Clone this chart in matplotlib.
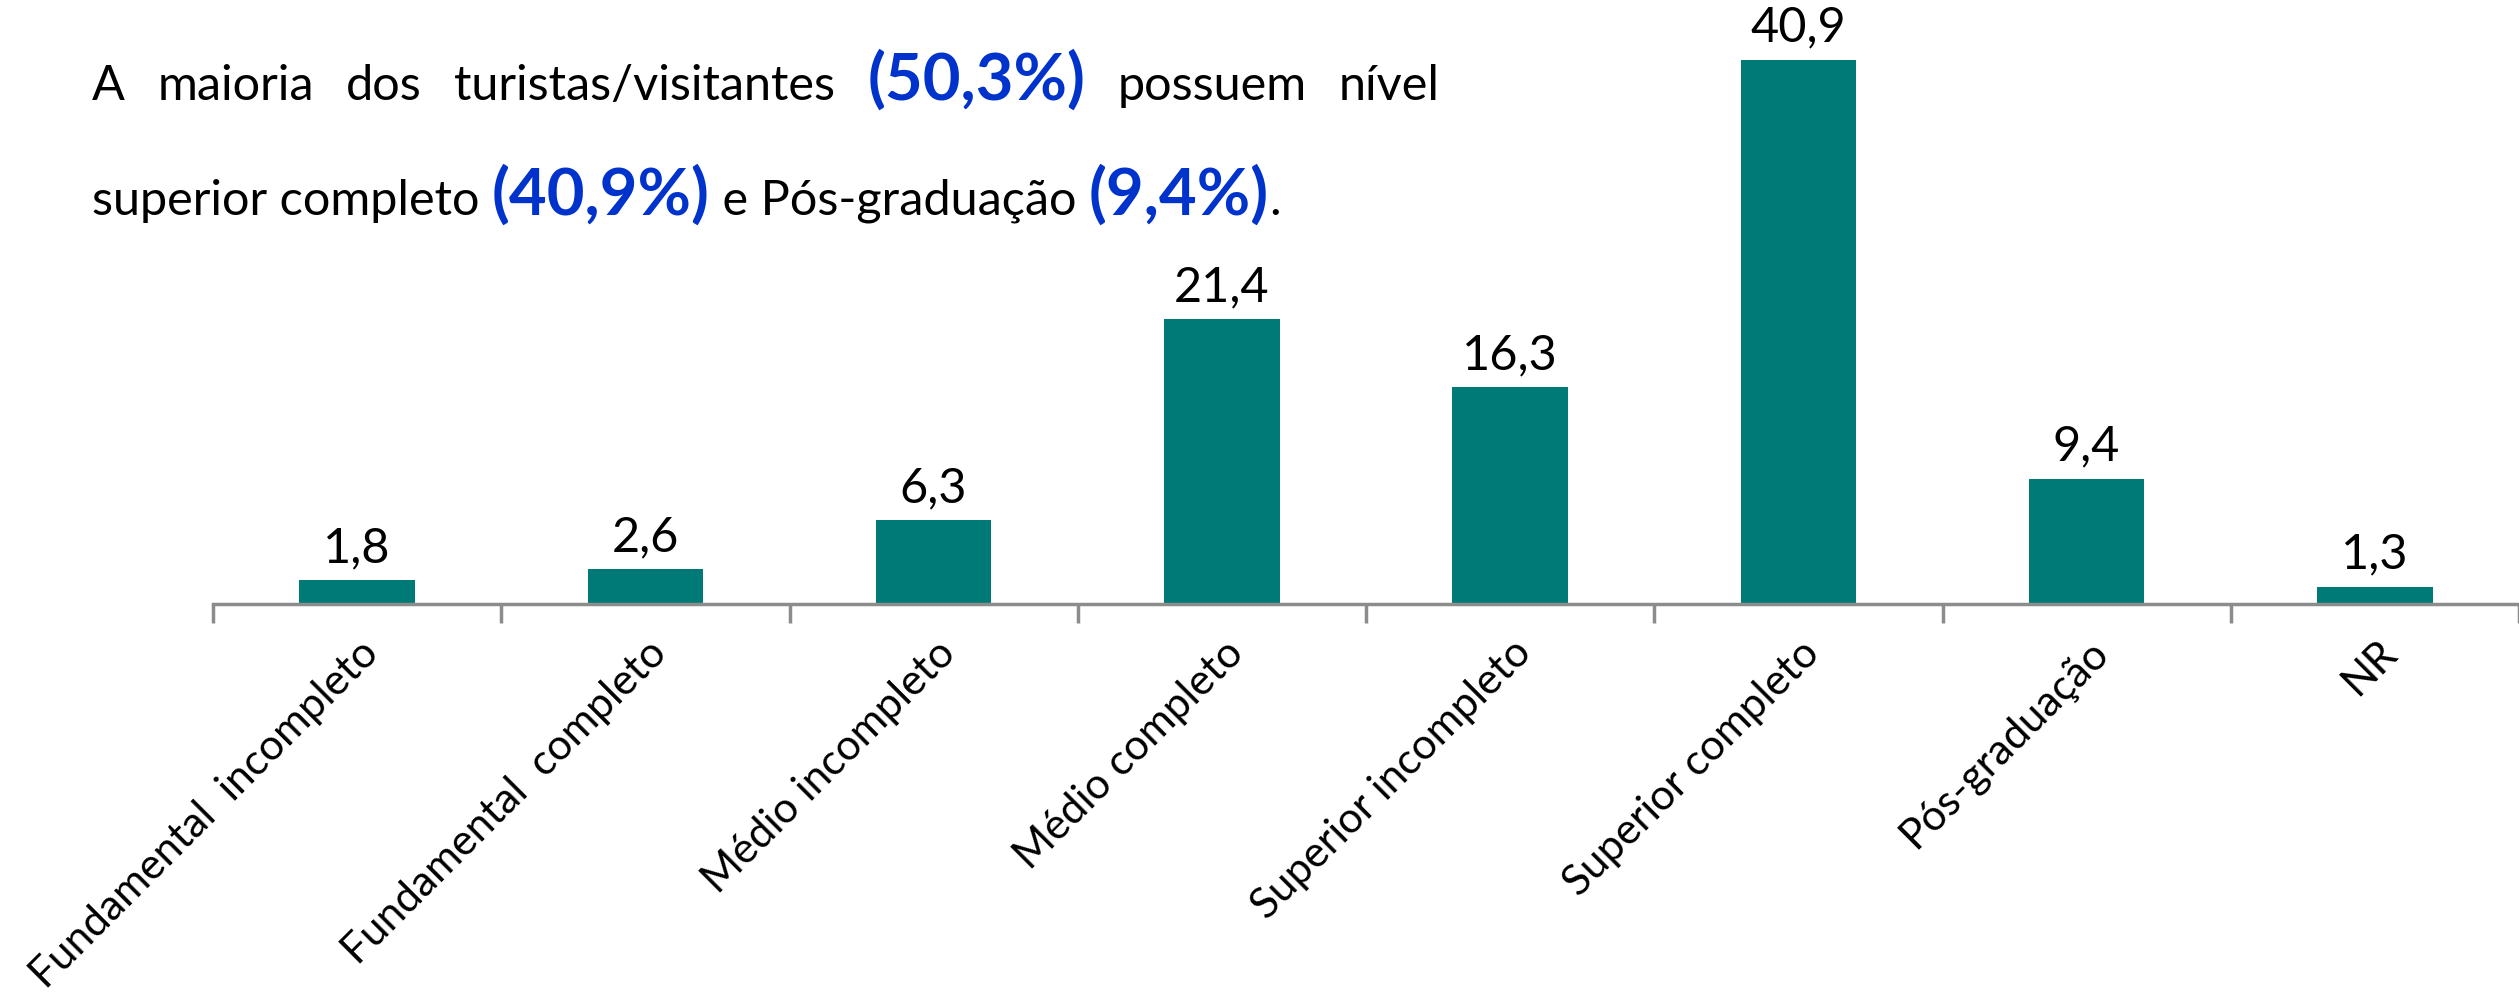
import matplotlib.pyplot as plt
import matplotlib.transforms as mtransforms
import numpy as np

categories = ['Fundamental  incompleto', 'Fundamental  completo', 'Médio incompleto',
              'Médio completo', 'Superior incompleto', 'Superior completo',
              'Pós-graduação', 'NR']
values = [1.8, 2.6, 6.3, 21.4, 16.3, 40.9, 9.4, 1.3]

line1 = [('A', False), ('maioria', False), ('dos', False), ('turistas/visitantes', False),
         ('(50,3%)', True), ('possuem', False), ('nível', False)]
line2 = [('superior completo ', False), ('(40,9%)', True), (' e Pós-graduação ', False),
         ('(9,4%)', True), ('.', False)]

plt.rcParams['font.family'] = ['Lato', 'DejaVu Sans']

W, H = 2519, 993
fig = plt.figure(figsize=(W / 100, H / 100), dpi=100)
ax = fig.add_axes([213 / W, 1 - 604 / H, (2519 - 213) / W, 604 / H])

x = np.arange(len(categories))
ax.bar(x, values, width=0.4, color='#007A76', zorder=2)
for xi, v in zip(x, values):
    ax.annotate(f'{v:.1f}'.replace('.', ','), (xi, v), xytext=(0, 13),
                textcoords='offset points', ha='center', va='baseline', fontsize=35)

ax.set_xlim(-0.5, len(categories) - 0.5)
ax.set_ylim(0, 45.4)
ax.set_yticks([])
for s in ['top', 'right', 'left']:
    ax.spines[s].set_visible(False)
ax.spines['bottom'].set_color('#8C8C8C')
ax.spines['bottom'].set_linewidth(2.5)

ax.set_xticks(x)
ax.set_xticklabels(categories, rotation=45, ha='right', va='center',
                   rotation_mode='anchor', fontsize=30.5)
ax.tick_params(axis='x', which='major', length=0, pad=30)
ax.set_xticks(np.arange(-0.5, len(categories), 1), minor=True)
ax.tick_params(axis='x', which='minor', length=14, width=2.5, color='#8C8C8C')
shift = mtransforms.ScaledTranslation(0.15, -0.01, fig.dpi_scale_trans)
for lab in ax.get_xticklabels():
    lab.set_transform(lab.get_transform() + shift)

# headline text, first line justified between two edges
renderer = fig.canvas.get_renderer()
blue = '#0033CC'

def make(word, bold, xpx, ypx):
    if bold:
        t = fig.text(xpx / W, 1 - ypx / H, word, fontsize=47, fontweight='bold',
                     color=blue, va='baseline')
    else:
        t = fig.text(xpx / W, 1 - ypx / H, word, fontsize=35, color='black',
                     va='baseline')
    return t

texts = [make(w, b, 0, 100) for w, b in line1]
widths = [t.get_window_extent(renderer).width for t in texts]
left, right = 92, 1440
gap = (right - left - sum(widths)) / (len(texts) - 1)
cur = left
for t, w in zip(texts, widths):
    t.set_x(cur / W)
    cur += w + gap

cur = 92
for w, b in line2:
    t = make(w, b, cur, 215)
    cur += t.get_window_extent(renderer).width

fig.savefig('out.png', dpi=100)
